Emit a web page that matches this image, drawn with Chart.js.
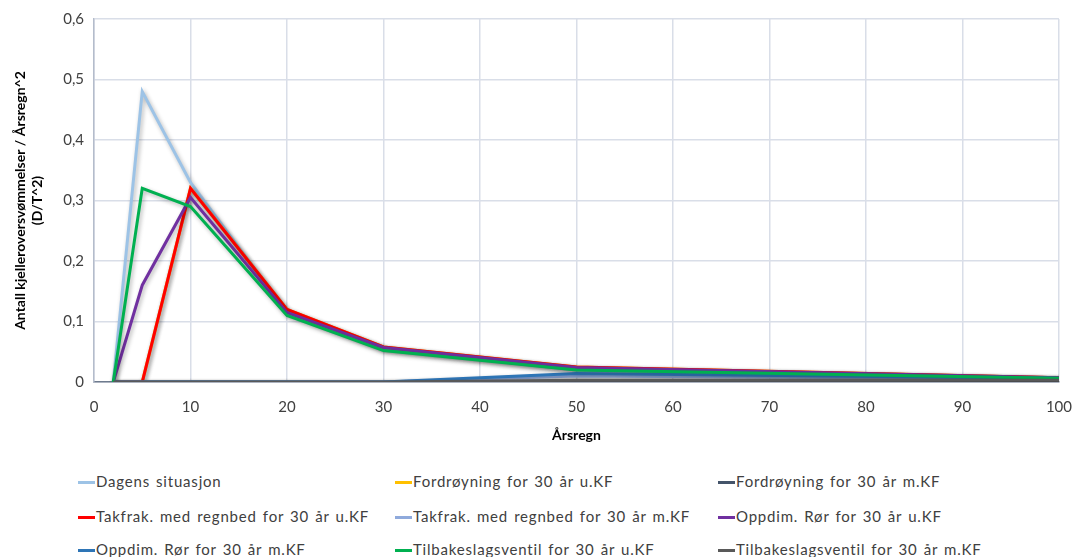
<!DOCTYPE html>
<html>
<head>
<meta charset="utf-8">
<script src="https://cdn.jsdelivr.net/npm/chart.js@4.4.1/dist/chart.umd.min.js"></script>
<style>
  body { margin: 0; background: #fff; font-family: Lato, "Open Sans", sans-serif; }
  #wrap { position: relative; width: 1075px; height: 557px; }
  #chart { position: absolute; left: 0; top: 0; }
  .leg { position: absolute; font-size: 15px; color: #404040; white-space: nowrap; line-height: 16px; letter-spacing: 0.8px; word-spacing: 1.5px; }
  .leg i { display: inline-block; width: 17px; height: 3px; vertical-align: middle; margin-right: 1px; position: relative; top: -1px; }
</style>
</head>
<body>
<div id="wrap">
  <canvas id="chart" width="1075" height="460"></canvas>
  <div id="legend"></div>
</div>
<script>
// Årsregn (x)
const arsregn = [2, 5, 10, 20, 30, 50, 100];

// seriene
const dagens          = [0, 0.48, 0.33, 0.115, 0.055, 0.02, 0.006];
const fordUKF         = [0, 0, 0.32, 0.12, 0.058, 0.025, 0.007];
const fordMKF         = [0, 0, 0, 0, 0, 0, 0];
const takfrakUKF      = [0, 0, 0.32, 0.12, 0.058, 0.025, 0.007];
const takfrakMKF      = [0, 0, 0, 0, 0, 0.01, 0.005];
const oppdimUKF       = [0, 0.16, 0.305, 0.115, 0.057, 0.024, 0.007];
const oppdimMKF       = [0, 0, 0, 0, 0, 0.014, 0.006];
const tilbakeUKF      = [0, 0.32, 0.29, 0.11, 0.052, 0.02, 0.006];
const tilbakeMKF      = [0, 0, 0, 0, 0, 0.003, 0.003];

const seriesNames = [
  'Dagens situasjon', 'Fordrøyning for 30 år u.KF', 'Fordrøyning for 30 år m.KF',
  'Takfrak. med regnbed for 30 år u.KF', 'Takfrak. med regnbed for 30 år m.KF', 'Oppdim. Rør for 30 år u.KF',
  'Oppdim. Rør for 30 år m.KF', 'Tilbakeslagsventil for 30 år u.KF', 'Tilbakeslagsventil for 30 år m.KF'
];
const seriesData = [dagens, fordUKF, fordMKF, takfrakUKF, takfrakMKF, oppdimUKF, oppdimMKF, tilbakeUKF, tilbakeMKF];
const colors = ['#9DC3E6', '#FFC000', '#44546A', '#FF0000', '#8FAADC', '#7030A0', '#2E75B6', '#00B050', '#595959'];

// senere serier tegnes øverst, som i Excel
const datasets = seriesNames.map((name, i) => ({
  label: name,
  data: arsregn.map((x, j) => ({ x: x, y: seriesData[i][j] })),
  borderColor: colors[i],
  backgroundColor: colors[i],
  borderWidth: 3,
  pointRadius: 0,
  tension: 0,
  fill: false,
  order: seriesNames.length - i
}));

// skygge under linjene
const shadowPlugin = {
  id: 'shadow',
  beforeDatasetDraw(chart) {
    const ctx = chart.ctx;
    ctx.save();
    ctx.shadowColor = 'rgba(0,0,0,0.3)';
    ctx.shadowBlur = 4;
    ctx.shadowOffsetX = 1.5;
    ctx.shadowOffsetY = 2;
  },
  afterDatasetDraw(chart) {
    chart.ctx.restore();
  }
};

const tickFont = { family: 'Lato, "Open Sans", sans-serif', size: 15 };
const titleFont = { family: 'Lato, "Open Sans", sans-serif', size: 14, weight: 'bold' };

new Chart(document.getElementById('chart'), {
  type: 'line',
  data: { datasets },
  plugins: [shadowPlugin],
  options: {
    responsive: false,
    animation: false,
    layout: { padding: { top: 9, right: 15, left: 8, bottom: 0 } },
    plugins: { legend: { display: false }, tooltip: { enabled: false } },
    scales: {
      x: {
        type: 'linear',
        min: 0, max: 100,
        ticks: { stepSize: 10, color: '#404040', font: { ...tickFont, lineHeight: 2.9 }, padding: 3 },
        grid: { color: '#D9DEE8', lineWidth: 1.5, drawTicks: false },
        border: { color: '#6E7B8E', width: 1.5 },
        title: { display: true, text: 'Årsregn', color: '#000', font: titleFont, padding: { top: 0, bottom: 16 } },
        afterFit: s => { s.height = 78; }
      },
      y: {
        min: 0, max: 0.6,
        ticks: {
          stepSize: 0.1, color: '#404040', font: tickFont, padding: 10,
          callback: v => v === 0 ? '0' : v.toFixed(1).replace('.', ',')
        },
        grid: { color: '#D9DEE8', lineWidth: 1.5, drawTicks: false },
        border: { color: '#B4BCCB', width: 1.5 },
        title: {
          display: true,
          text: ['Antall kjelleroversvømmelser / Årsregn^2', '(D/T^2)'],
          color: '#000', font: titleFont, padding: { bottom: 4 }
        },
        afterFit: s => { s.width = 86; }
      }
    }
  }
});

// legende i tre kolonner
const legX = [78, 395, 718];
const legY = [481, 516, 549];
document.getElementById('legend').innerHTML = seriesNames.map((name, i) =>
  `<div class="leg" style="left:${legX[i % 3]}px;top:${legY[Math.floor(i / 3)] - 8}px"><i style="background:${colors[i]}"></i>${name}</div>`
).join('');
</script>
</body>
</html>
